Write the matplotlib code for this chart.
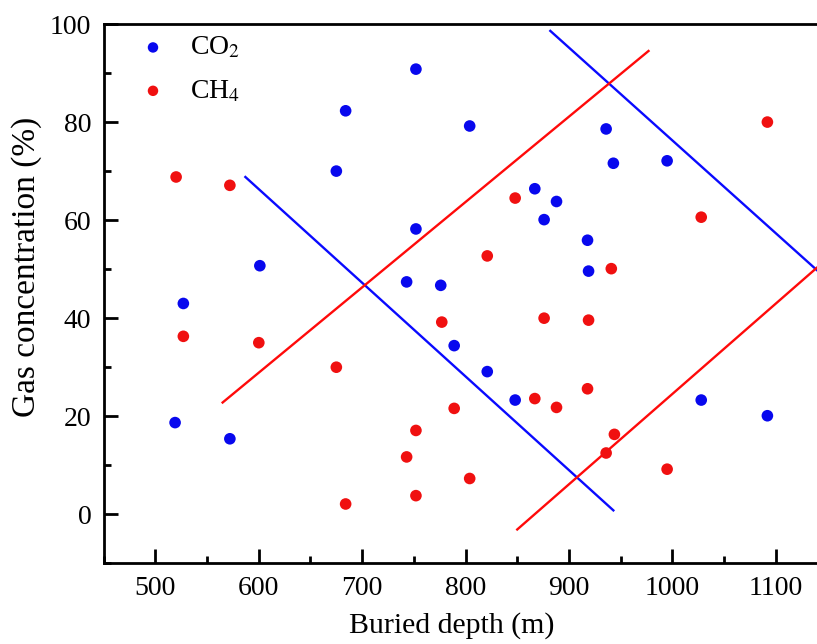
import matplotlib.pyplot as plt
from matplotlib.ticker import MultipleLocator

# buried depth (m) and concentration (%)
co2_depth = [752, 684, 675, 752, 601, 743, 527, 804, 936, 943, 995, 867,
             888, 876, 918, 919, 776, 519, 572, 789, 821, 848, 1028, 1092]
co2_conc = [90.8, 82.3, 70.0, 58.2, 50.7, 47.4, 43.0, 79.2, 78.6, 71.6, 72.1, 66.4,
            63.8, 60.1, 55.9, 49.6, 46.7, 18.7, 15.4, 34.4, 29.1, 23.3, 23.3, 20.1]

ch4_depth = [520, 572, 1092, 848, 1028, 821, 941, 527, 600, 675, 684, 752,
             743, 752, 777, 876, 919, 918, 867, 888, 789, 804, 944, 936, 995]
ch4_conc = [68.8, 67.1, 80.0, 64.5, 60.6, 52.7, 50.1, 36.3, 35.0, 30.0, 2.1, 17.1,
            11.7, 3.8, 39.2, 40.0, 39.6, 25.6, 23.6, 21.8, 21.6, 7.3, 16.3, 12.5, 9.2]

# boundary lines (endpoints)
blue_line1_x = [587, 943]
blue_line1_y = [68.8, 0.8]
blue_line2_x = [882, 1160]
blue_line2_y = [98.6, 46.0]
red_line1_x = [565, 977]
red_line1_y = [22.8, 94.5]
red_line2_x = [850, 1160]
red_line2_y = [-3.1, 54.0]


def main():
    plt.rcParams['font.family'] = ['Liberation Serif', 'DejaVu Serif']
    plt.rcParams['mathtext.fontset'] = 'stix'

    fig = plt.figure(figsize=(8.17, 6.44), dpi=100)
    ax = fig.add_axes([0.127, 0.1253, 0.873, 0.8374])

    ax.plot(blue_line1_x, blue_line1_y, color='#0a0aff', lw=1.7)
    ax.plot(blue_line2_x, blue_line2_y, color='#0a0aff', lw=1.7)
    ax.plot(red_line1_x, red_line1_y, color='#ff0a0a', lw=1.7)
    ax.plot(red_line2_x, red_line2_y, color='#ff0a0a', lw=1.7)

    ax.scatter(co2_depth, co2_conc, s=70, color='#0808ee', edgecolors='none',
               label='CO$_2$', zorder=3)
    ax.scatter(ch4_depth, ch4_conc, s=70, color='#f01010', edgecolors='none',
               label='CH$_4$', zorder=3)

    ax.set_xlim(450, 1140)
    ax.set_ylim(-10, 100)
    ax.xaxis.set_major_locator(MultipleLocator(100))
    ax.xaxis.set_minor_locator(MultipleLocator(50))
    ax.yaxis.set_major_locator(MultipleLocator(20))
    ax.yaxis.set_minor_locator(MultipleLocator(10))
    ax.tick_params(which='both', direction='in', width=2, labelsize=20,
                   top=False, right=False)
    ax.tick_params(which='major', length=10, pad=9)
    ax.tick_params(which='minor', length=5)

    for side in ['left', 'bottom', 'top']:
        ax.spines[side].set_linewidth(2)
    ax.spines['right'].set_visible(False)

    ax.set_xlabel('Buried depth (m)', fontsize=21.5)
    ax.set_ylabel('Gas concentration (%)', fontsize=24)
    ax.xaxis.set_label_coords(0.488, -0.090)
    ax.yaxis.set_label_coords(-0.086, 0.55)

    ax.legend(loc='upper left', bbox_to_anchor=(0.0145, 1.0), borderaxespad=0,
              frameon=False, fontsize=20, handletextpad=0.35,
              labelspacing=0.64, markerscale=0.9)

    fig.savefig('out.png', dpi=100)


if __name__ == '__main__':
    main()
